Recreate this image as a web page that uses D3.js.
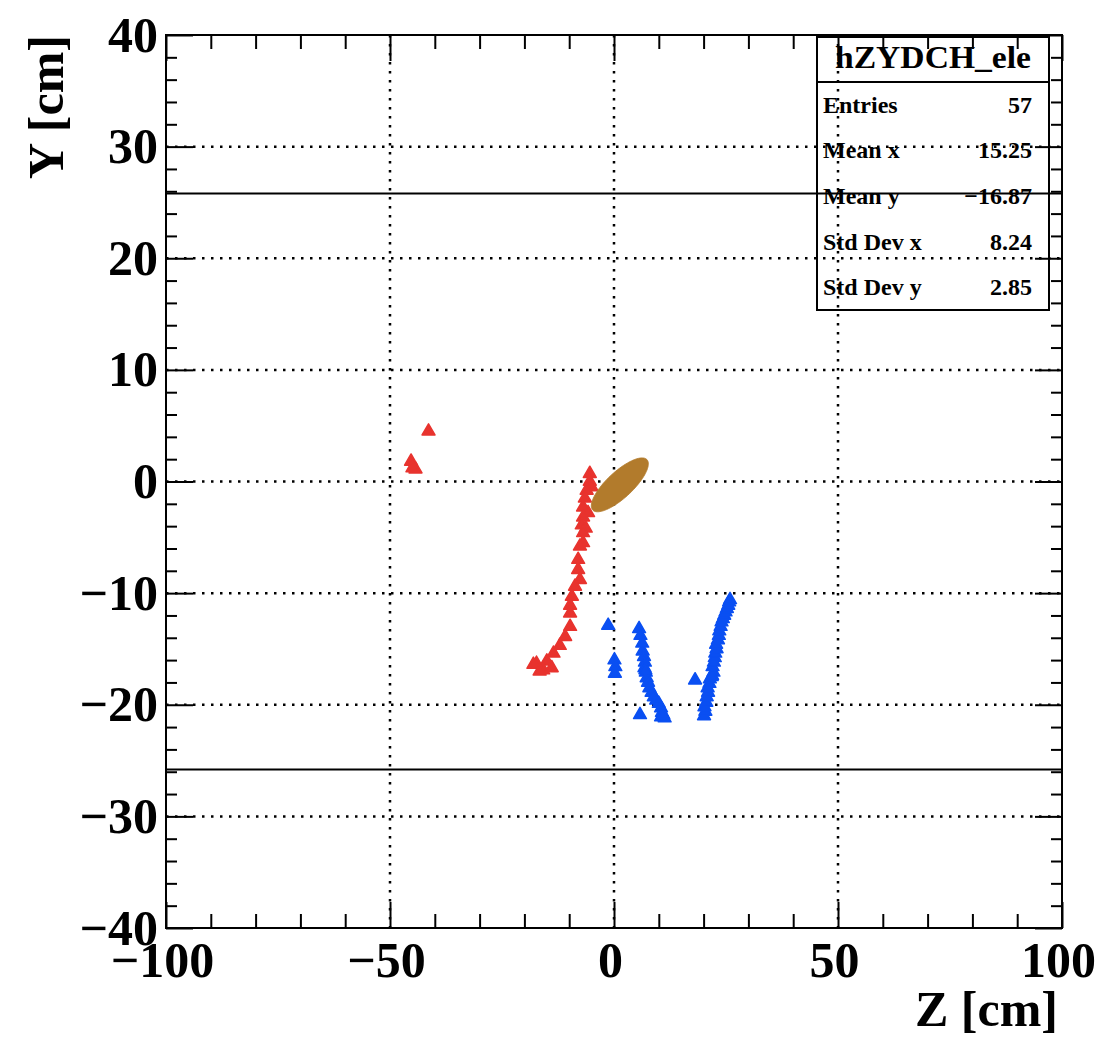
<!DOCTYPE html>
<html>
<head>
<meta charset="utf-8">
<script src="https://cdn.jsdelivr.net/npm/d3@7"></script>
<style>
  html, body { margin: 0; padding: 0; background: #ffffff; }
  svg { display: block; }
  text { font-family: "Liberation Serif", "Times New Roman", serif; font-weight: bold; fill: #000; }
</style>
</head>
<body>
<svg id="chart" width="1103" height="1037"></svg>
<script>
// ---- axis ranges and ticks ----
const zDomain = [-100, 100];
const yDomain = [-40, 40];
const zMajorTicks = [-100, -50, 0, 50, 100];
const zMinorTicks = [-90, -80, -70, -60, -40, -30, -20, -10, 10, 20, 30, 40, 60, 70, 80, 90];
const yMajorTicks = [-40, -30, -20, -10, 0, 10, 20, 30, 40];
const yMinorTicks = [-38, -36, -34, -32, -28, -26, -24, -22, -18, -16, -14, -12, -8, -6, -4, -2,
                     2, 4, 6, 8, 12, 14, 16, 18, 22, 24, 26, 28, 32, 34, 36, 38];
const zGrid = [-50, 0, 50];
const yGrid = [-30, -20, -10, 0, 10, 20, 30];

// chamber boundary (|Y| limit)
const boundaryY = [25.8, -25.8];

// ---- hits: hZYDCH_ele (blue) ----
const eleHitsZ = [
  20.1, 20.4, 20.2, 20.6, 20.7, 21.0, 20.9, 21.3, 21.4, 21.9, 22.2, 22.0, 22.3, 22.5, 22.6,
  22.9, 22.8, 23.2, 23.4, 23.5, 23.8, 24.0, 24.3, 24.6, 24.9, 25.2, 25.5, 25.7, 25.9, 21.8,
  6.4, 6.7, 6.9, 6.8, 7.1, 7.3, 7.6, 7.9, 8.4, 8.9, 9.4, 10.0, 10.5, 10.7, 10.5, 11.3, 11.0, 7.0,
  -1.3, 0.1, 0.3, 0.2, 5.6, 5.9, 6.3, 5.8, 18.1
];
const eleHitsY = [
  -21.0, -20.6, -20.2, -19.8, -19.3, -18.9, -18.5, -18.1, -17.7, -17.4, -17.1, -16.6, -16.2, -15.8, -15.4,
  -15.0, -14.6, -14.2, -13.8, -13.4, -13.0, -12.6, -12.3, -12.0, -11.7, -11.4, -11.1, -10.8, -10.6, -17.5,
  -15.2, -15.7, -16.2, -16.7, -17.1, -17.6, -18.0, -18.5, -18.9, -19.3, -19.6, -19.9, -20.3, -20.7, -21.1, -21.2, -20.9, -16.9,
  -12.9, -16.0, -16.6, -17.2, -13.2, -13.8, -14.5, -20.9, -17.8
];

// ---- hits: second track (red) ----
const posHitsZ = [
  -5.4, -5.4, -5.0, -6.1, -6.5, -6.9, -5.8, -6.9, -7.2, -6.3, -6.9, -6.9, -7.6, -8.0, -8.0, -7.6,
  -8.7, -9.4, -9.8, -9.8, -9.8, -10.9, -12.1, -13.5, -15.0, -17.3, -15.8, -13.9, -18.0, -16.6,
  -41.4, -45.3, -44.3, -45.0
];
const posHitsY = [
  0.7, 0.0, -0.5, -0.8, -1.5, -2.3, -2.8, -3.2, -3.9, -4.2, -4.6, -5.5, -5.8, -7.0, -7.9, -8.8,
  -9.4, -10.3, -11.1, -11.8, -13.0, -13.9, -14.7, -15.4, -16.1, -16.3, -16.9, -16.7, -16.4, -17.0,
  4.5, 1.8, 1.1, 1.2
];

// ---- vertex region ellipse (centre and conjugate half-axes, cm) ----
const vertexCentre = [1.3, -0.3];
const vertexMajorHalf = [6.05, 2.26];
const vertexMinorHalf = [1.98, -0.85];

// ---- statistics box ----
const statTitle = "hZYDCH_ele";
const statNames = ["Entries", "Mean x", "Mean y", "Std Dev x", "Std Dev y"];
const statValues = ["57", "15.25", "\u221216.87", "8.24", "2.85"];

// ---- colours ----
const eleColor = "#0a4ff2";
const posColor = "#e8332e";
const vertexColor = "#b27b2c";

// ---- frame ----
const frame = { left: 166, right: 1062, top: 35, bottom: 928 };

const svg = d3.select("#chart");
const x = d3.scaleLinear().domain(zDomain).range([frame.left, frame.right]);
const y = d3.scaleLinear().domain(yDomain).range([frame.bottom, frame.top]);
const fmt = d => (d < 0 ? "\u2212" + Math.abs(d) : String(d));

// dotted grid
const grid = svg.append("g").attr("stroke", "#000").attr("stroke-width", 2.5)
  .attr("stroke-dasharray", "2.5 6.5").attr("fill", "none");
grid.selectAll("line.gz").data(zGrid).join("line")
  .attr("x1", d => x(d)).attr("x2", d => x(d))
  .attr("y1", frame.top).attr("y2", frame.bottom);
grid.selectAll("line.gy").data(yGrid).join("line")
  .attr("x1", frame.left).attr("x2", frame.right)
  .attr("y1", d => y(d)).attr("y2", d => y(d));

// hit markers (filled triangles)
const tri = d3.symbol().type(d3.symbolTriangle).size(72);
function drawHits(zs, ys, color) {
  svg.append("g").selectAll("path").data(zs.map((z, i) => [z, ys[i]])).join("path")
    .attr("d", tri)
    .attr("transform", d => `translate(${x(d[0])},${y(d[1])})`)
    .attr("fill", color).attr("stroke", color).attr("stroke-width", 1.5)
    .attr("stroke-linejoin", "round");
}
drawHits(posHitsZ, posHitsY, posColor);
drawHits(eleHitsZ, eleHitsY, eleColor);

// vertex ellipse traced in data coordinates
const ellipsePts = d3.range(0, 361, 4).map(a => {
  const t = a * Math.PI / 180;
  return [
    vertexCentre[0] + vertexMajorHalf[0] * Math.cos(t) + vertexMinorHalf[0] * Math.sin(t),
    vertexCentre[1] + vertexMajorHalf[1] * Math.cos(t) + vertexMinorHalf[1] * Math.sin(t)
  ];
});
svg.append("path")
  .attr("d", d3.line().x(d => x(d[0])).y(d => y(d[1])).curve(d3.curveLinearClosed)(ellipsePts))
  .attr("fill", vertexColor).attr("stroke", vertexColor).attr("stroke-width", 0.8);

// chamber boundaries
svg.append("g").selectAll("line").data(boundaryY).join("line")
  .attr("x1", frame.left).attr("x2", frame.right)
  .attr("y1", d => y(d)).attr("y2", d => y(d))
  .attr("stroke", "#000").attr("stroke-width", 2);

// axes: ticks point inwards on all four sides
function styleAxis(g) {
  g.select(".domain").remove();
  g.selectAll(".tick line").attr("stroke", "#000").attr("stroke-width", 2);
  g.selectAll(".tick text").style("font-family", "'Liberation Serif', 'Times New Roman', serif")
    .style("font-weight", "bold").style("font-size", "50px").attr("fill", "#000");
}
svg.append("g").attr("transform", `translate(0,${frame.bottom})`)
  .call(d3.axisBottom(x).tickValues(zMajorTicks).tickSize(-26).tickPadding(13).tickFormat(fmt))
  .call(styleAxis)
  .call(g => g.selectAll(".tick text").attr("dx", -4));
svg.append("g").attr("transform", `translate(0,${frame.bottom})`)
  .call(d3.axisBottom(x).tickValues(zMinorTicks).tickSize(-14).tickFormat(""))
  .call(styleAxis);
svg.append("g").attr("transform", `translate(0,${frame.top})`)
  .call(d3.axisTop(x).tickValues(zMajorTicks).tickSize(-26).tickFormat(""))
  .call(styleAxis);
svg.append("g").attr("transform", `translate(0,${frame.top})`)
  .call(d3.axisTop(x).tickValues(zMinorTicks).tickSize(-14).tickFormat(""))
  .call(styleAxis);

svg.append("g").attr("transform", `translate(${frame.left},0)`)
  .call(d3.axisLeft(y).tickValues(yMajorTicks).tickSize(-27).tickPadding(8).tickFormat(fmt))
  .call(styleAxis);
svg.append("g").attr("transform", `translate(${frame.left},0)`)
  .call(d3.axisLeft(y).tickValues(yMinorTicks).tickSize(-11).tickFormat(""))
  .call(styleAxis);
svg.append("g").attr("transform", `translate(${frame.right},0)`)
  .call(d3.axisRight(y).tickValues(yMajorTicks).tickSize(-27).tickFormat(""))
  .call(styleAxis);
svg.append("g").attr("transform", `translate(${frame.right},0)`)
  .call(d3.axisRight(y).tickValues(yMinorTicks).tickSize(-11).tickFormat(""))
  .call(styleAxis);

// frame
svg.append("rect")
  .attr("x", frame.left).attr("y", frame.top)
  .attr("width", frame.right - frame.left).attr("height", frame.bottom - frame.top)
  .attr("fill", "none").attr("stroke", "#000").attr("stroke-width", 2);

// axis titles
svg.append("text")
  .attr("x", 1058).attr("y", 1026)
  .attr("text-anchor", "end").style("font-size", "50px")
  .text("Z [cm]");
svg.append("text")
  .attr("transform", "translate(63,35) rotate(-90)")
  .attr("text-anchor", "end").style("font-size", "50px")
  .text("Y [cm]");

// statistics box (no fill)
const box = { left: 817, right: 1049, top: 37, sep: 82, bottom: 310 };
const sb = svg.append("g");
sb.append("rect")
  .attr("x", box.left).attr("y", box.top)
  .attr("width", box.right - box.left).attr("height", box.bottom - box.top)
  .attr("fill", "none").attr("stroke", "#000").attr("stroke-width", 2);
sb.append("line")
  .attr("x1", box.left).attr("x2", box.right).attr("y1", box.sep).attr("y2", box.sep)
  .attr("stroke", "#000").attr("stroke-width", 2);
sb.append("text")
  .attr("x", (box.left + box.right) / 2).attr("y", 68)
  .attr("text-anchor", "middle").style("font-size", "32px")
  .attr("textLength", 196).attr("lengthAdjust", "spacingAndGlyphs")
  .text(statTitle);
const rowH = (box.bottom - box.sep) / statNames.length;
statNames.forEach((name, i) => {
  const base = box.sep + rowH * (i + 0.5) + 8;
  sb.append("text").attr("x", 823).attr("y", base).style("font-size", "24px").text(name);
  sb.append("text").attr("x", 1032).attr("y", base).attr("text-anchor", "end")
    .style("font-size", "24px").text(statValues[i]);
});
</script>
</body>
</html>
